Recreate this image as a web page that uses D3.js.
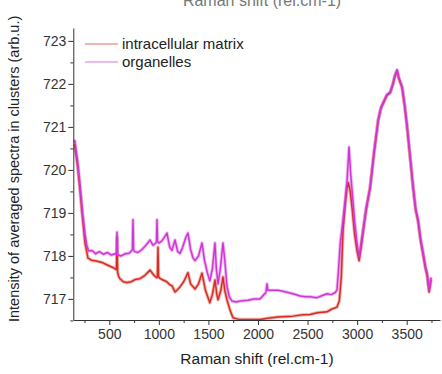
<!DOCTYPE html>
<html>
<head>
<meta charset="utf-8">
<script src="https://cdn.jsdelivr.net/npm/d3@7"></script>
<style>
  body { margin: 0; background: #fff; }
  text { font-family: "Liberation Sans", Arial, sans-serif; }
</style>
</head>
<body>
<script>
// intracellular matrix spectrum
const matrixShift = [150, 180, 204, 230, 255, 285, 320, 370, 406, 436, 470, 507, 537, 560, 572, 578, 584, 595, 608, 640, 679, 720, 760, 810, 860, 911, 950, 975, 985, 991, 997, 1010, 1042, 1080, 1110, 1132, 1163, 1190, 1213, 1250, 1294, 1320, 1365, 1400, 1435, 1470, 1514, 1540, 1566, 1585, 1597, 1625, 1647, 1665, 1687, 1718, 1748, 1800, 1900, 2020, 2100, 2200, 2353, 2450, 2525, 2600, 2696, 2740, 2797, 2820, 2840, 2858, 2880, 2898, 2912, 2930, 2950, 2975, 3000, 3020, 3040, 3060, 3090, 3131, 3170, 3212, 3240, 3262, 3300, 3333, 3360, 3383, 3403, 3420, 3454, 3480, 3504, 3535, 3565, 3590, 3615, 3640, 3666, 3690, 3706, 3726, 3746];
const matrixIntensity = [720.6, 720.1, 719.55, 718.9, 718.3, 717.95, 717.9, 717.88, 717.86, 717.84, 717.8, 717.76, 717.73, 717.7, 717.68, 718.44, 717.62, 717.52, 717.47, 717.4, 717.38, 717.4, 717.45, 717.47, 717.55, 717.67, 717.55, 717.5, 717.5, 718.2, 717.52, 717.48, 717.44, 717.4, 717.33, 717.31, 717.16, 717.22, 717.28, 717.4, 717.61, 717.35, 717.23, 717.35, 717.6, 717.2, 716.91, 717.1, 717.44, 717.1, 716.98, 717.2, 717.51, 717.2, 716.98, 716.74, 716.56, 716.53, 716.52, 716.52, 716.55, 716.58, 716.6, 716.63, 716.64, 716.68, 716.7, 716.76, 716.81, 716.95, 717.5, 718.6, 719.2, 719.58, 719.7, 719.5, 719.1, 718.5, 718.1, 717.89, 718.2, 718.55, 719.05, 719.58, 720.38, 721.14, 721.43, 721.54, 721.73, 721.79, 721.98, 722.19, 722.3, 722.13, 721.91, 721.48, 721.0, 720.28, 719.58, 719.08, 718.8, 718.36, 718.02, 717.7, 717.55, 717.16, 717.45];

// organelles spectrum
const organelleShift = [150, 180, 204, 230, 255, 272, 290, 330, 360, 400, 440, 480, 520, 560, 572, 578, 584, 590, 620, 660, 700, 725, 733, 739, 745, 755, 790, 830, 870, 911, 940, 970, 976, 981, 987, 1000, 1030, 1060, 1082, 1110, 1132, 1163, 1190, 1213, 1240, 1275, 1294, 1320, 1345, 1365, 1400, 1435, 1460, 1490, 1514, 1540, 1566, 1580, 1597, 1620, 1647, 1665, 1687, 1710, 1738, 1780, 1820, 1900, 1960, 2020, 2060, 2080, 2091, 2100, 2150, 2200, 2250, 2300, 2353, 2424, 2480, 2525, 2595, 2650, 2696, 2740, 2780, 2797, 2810, 2830, 2858, 2880, 2900, 2918, 2935, 2950, 2975, 2999, 3020, 3040, 3060, 3090, 3131, 3170, 3212, 3240, 3262, 3300, 3333, 3360, 3383, 3403, 3420, 3454, 3480, 3504, 3535, 3565, 3590, 3615, 3640, 3666, 3690, 3706, 3726, 3746];
const organelleIntensity = [720.7, 720.2, 719.65, 719.0, 718.5, 718.26, 718.12, 718.12, 718.05, 718.1, 718.04, 718.08, 718.02, 718.05, 718.04, 718.55, 718.03, 718.02, 718.0, 718.05, 718.06, 718.12, 718.15, 718.84, 718.14, 718.1, 718.08, 718.15, 718.25, 718.37, 718.25, 718.3, 718.32, 718.84, 718.33, 718.3, 718.35, 718.45, 718.53, 718.2, 718.13, 718.37, 718.1, 718.06, 718.2, 718.45, 718.53, 718.15, 717.95, 717.89, 718.0, 718.3, 717.9, 717.6, 717.42, 717.7, 718.3, 717.7, 717.35, 717.7, 718.3, 717.9, 717.3, 717.05, 716.95, 716.93, 716.95, 716.97, 717.0, 717.0, 717.1, 717.15, 717.35, 717.2, 717.2, 717.2, 717.18, 717.15, 717.12, 717.07, 717.05, 717.05, 717.03, 717.08, 717.12, 717.1, 717.15, 717.21, 717.6, 718.3, 718.84, 719.3, 719.8, 720.53, 719.9, 719.5, 718.8, 718.3, 717.98, 718.3, 718.6, 719.1, 719.6, 720.4, 721.16, 721.45, 721.56, 721.75, 721.81, 722.0, 722.21, 722.33, 722.15, 721.93, 721.5, 721.02, 720.3, 719.6, 719.1, 718.84, 718.4, 718.07, 717.75, 717.6, 717.21, 717.5];

const xMajorTicks = [500, 1000, 1500, 2000, 2500, 3000, 3500];
const xMinorTicks = [250, 750, 1250, 1750, 2250, 2750, 3250, 3750];
const yMajorTicks = [717, 718, 719, 720, 721, 722, 723];
const yMinorTicks = [716.5, 717.5, 718.5, 719.5, 720.5, 721.5, 722.5];

const seriesNames = ["intracellular matrix", "organelles"];
const seriesColors = ["#d62c22", "#cf36d6"];

const width = 442;
const height = 374;
const margin = {left: 73.3, right: 2, top: 28, bottom: 54};

const svg = d3.select("body").append("svg")
    .attr("width", width)
    .attr("height", height);

const x = d3.scaleLinear().domain([137, 3836]).range([margin.left, width - margin.right]);
const y = d3.scaleLinear().domain([716.51, 723.3]).range([height - margin.bottom, margin.top]);

svg.append("defs").append("clipPath").attr("id", "plotclip")
    .append("rect")
    .attr("x", margin.left).attr("y", margin.top - 5)
    .attr("width", width - margin.left - margin.right)
    .attr("height", height - margin.bottom - margin.top + 5);

// cut-off title at the very top (only its lower half shows in the original)
svg.append("text")
    .attr("x", 262).attr("y", 6)
    .attr("text-anchor", "middle")
    .attr("font-size", 16)
    .attr("fill", "#777")
    .text("Raman shift (rel.cm-1)");

const line = d3.line()
    .x(d => x(d[0]))
    .y(d => y(d[1]));

const series = [
    d3.zip(matrixShift, matrixIntensity),
    d3.zip(organelleShift, organelleIntensity)
];

const plot = svg.append("g").attr("clip-path", "url(#plotclip)");
series.forEach((s, i) => {
    plot.append("path")
        .datum(s)
        .attr("fill", "none")
        .attr("stroke", seriesColors[i])
        .attr("stroke-opacity", 0.35)
        .attr("stroke-width", 3.4)
        .attr("stroke-linejoin", "round")
        .attr("d", line);
    plot.append("path")
        .datum(s)
        .attr("fill", "none")
        .attr("stroke", seriesColors[i])
        .attr("stroke-width", 1.5)
        .attr("stroke-linejoin", "round")
        .attr("d", line);
});

// axes
const axisColor = "#333";
const fmt = d3.format("d");
svg.append("g")
    .attr("transform", `translate(0,${height - margin.bottom})`)
    .call(d3.axisBottom(x).tickValues(xMajorTicks).tickFormat(fmt).tickSize(5).tickSizeOuter(0).tickPadding(4));
svg.append("g")
    .attr("transform", `translate(0,${height - margin.bottom})`)
    .call(d3.axisBottom(x).tickValues(xMinorTicks).tickSize(3).tickSizeOuter(0).tickFormat(""))
    .call(g => g.select(".domain").remove());

svg.append("g")
    .attr("transform", `translate(${margin.left},0)`)
    .call(d3.axisLeft(y).tickValues(yMajorTicks).tickFormat(fmt).tickSize(5).tickSizeOuter(0).tickPadding(2));
svg.append("g")
    .attr("transform", `translate(${margin.left},0)`)
    .call(d3.axisLeft(y).tickValues(yMinorTicks).tickSize(3).tickSizeOuter(0).tickFormat(""))
    .call(g => g.select(".domain").remove());

svg.selectAll(".domain, .tick line").attr("stroke", axisColor).attr("stroke-width", 1);
svg.selectAll(".tick text")
    .attr("font-size", 14)
    .attr("fill", "#333")
    .attr("font-family", "Liberation Sans, Arial, sans-serif");

// axis titles
svg.append("text")
    .attr("x", 257).attr("y", 364)
    .attr("text-anchor", "middle")
    .attr("font-size", 15.5)
    .attr("fill", "#222")
    .text("Raman shift (rel.cm-1)");

svg.append("text")
    .attr("transform", "translate(19,322) rotate(-90)")
    .attr("text-anchor", "start")
    .attr("font-size", 14.5)
    .attr("fill", "#222")
    .text("Intensity of averaged spectra in clusters (arb.u.)");

// legend
const legend = svg.append("g");
seriesNames.forEach((name, i) => {
    const ly = 44 + i * 18;
    legend.append("line")
        .attr("x1", 85).attr("x2", 118)
        .attr("y1", ly).attr("y2", ly)
        .attr("stroke", seriesColors[i])
        .attr("stroke-opacity", 0.7)
        .attr("stroke-width", 1.2);
    legend.append("text")
        .attr("x", 122).attr("y", ly + 5)
        .attr("font-size", 15)
        .attr("fill", "#222")
        .text(name);
});
</script>
</body>
</html>
